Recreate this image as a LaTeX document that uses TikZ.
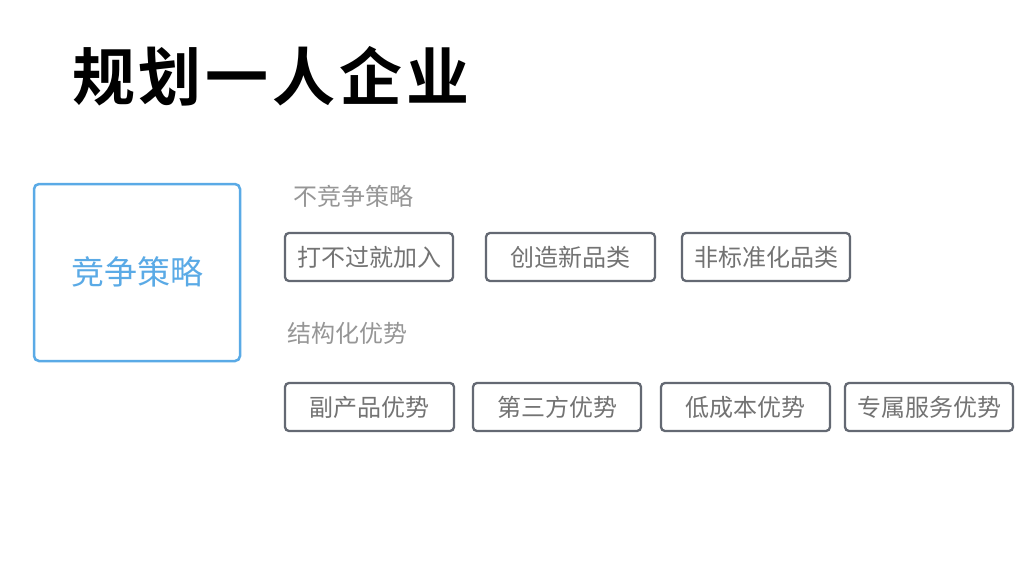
\documentclass[tikz,border=0pt]{standalone}
\usepackage{fontspec}
\newfontfamily\cjk{Noto Sans CJK SC}
\newfontfamily\cjkb[LetterSpace=6]{Noto Sans CJK SC Bold}
\definecolor{mainblue}{RGB}{90,170,230}
\definecolor{boxgray}{RGB}{100,105,115}
\definecolor{txtgray}{RGB}{115,115,115}
\definecolor{lblgray}{RGB}{150,150,150}
\tikzset{
  itembox/.style={draw=boxgray, line width=2.3pt, rounded corners=4pt, fill=white},
  itemtext/.style={text=txtgray, font=\cjk\fontsize{24}{28}\selectfont, inner sep=0pt},
  lbl/.style={text=lblgray, font=\cjk\fontsize{24}{28}\selectfont, inner sep=0pt, anchor=west},
}
\begin{document}
\begin{tikzpicture}[x=1pt,y=-1pt]
\useasboundingbox[fill=white] (0,0) rectangle (1024,564);
\node[font=\cjkb\fontsize{63}{70}\selectfont, inner sep=0pt, anchor=west] (title) at (72,76) {规划一人企业};
% main box
\draw[draw=mainblue, line width=2.5pt, rounded corners=5pt] (34,184) rectangle (240,361);
\node[text=mainblue, font=\cjk\fontsize{33}{38}\selectfont, inner sep=0pt] (main) at (137,272) {竞争策略};
% labels
\node[lbl] (l1) at (293,196) {不竞争策略};
\node[lbl] (l2) at (287,333) {结构化优势};
% row 1
\draw[itembox] (285,233) rectangle (453,281);
\node[itemtext] (a1) at (369,257) {打不过就加入};
\draw[itembox] (486,233) rectangle (655,281);
\node[itemtext] (a2) at (570.5,257) {创造新品类};
\draw[itembox] (682,233) rectangle (850,281);
\node[itemtext] (a3) at (766,257) {非标准化品类};
% row 2
\draw[itembox] (285,383) rectangle (454,431);
\node[itemtext] (b1) at (369.5,407) {副产品优势};
\draw[itembox] (473,383) rectangle (641,431);
\node[itemtext] (b2) at (557,407) {第三方优势};
\draw[itembox] (661,383) rectangle (830,431);
\node[itemtext] (b3) at (745.5,407) {低成本优势};
\draw[itembox] (845,383) rectangle (1013,431);
\node[itemtext] (b4) at (929,407) {专属服务优势};
\end{tikzpicture}
\end{document}
